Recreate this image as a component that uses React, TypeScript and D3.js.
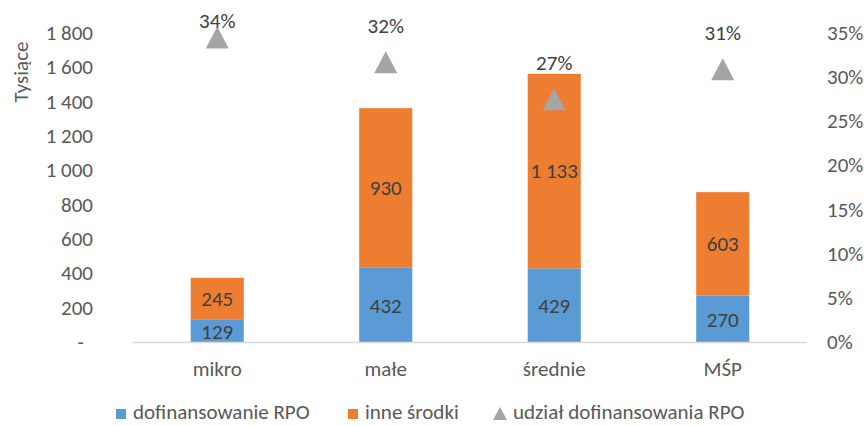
import React from "react";
import * as d3 from "d3";

const categories = ["mikro", "małe", "średnie", "MŚP"];
const rpoValues = [129, 432, 429, 270];
const otherValues = [245, 930, 1133, 603];
const shareValues = [0.345, 0.317, 0.275, 0.309];
const shareLabels = ["34%", "32%", "27%", "31%"];
const leftTicks = [0, 200, 400, 600, 800, 1000, 1200, 1400, 1600, 1800];
const rightTicks = [0, 0.05, 0.1, 0.15, 0.2, 0.25, 0.3, 0.35];
const legendLabels = ["dofinansowanie RPO", "inne środki", "udział dofinansowania RPO"];

const BLUE = "#5B9BD5";
const ORANGE = "#ED7D31";
const GRAY = "#A5A5A5";
const FONT = "Carlito, Lato, sans-serif";
const FS = 21;

function fmtThousands(v: number): string {
  if (v === 0) return "-";
  const s = String(v);
  return s.length > 3 ? s.slice(0, s.length - 3) + " " + s.slice(s.length - 3) : s;
}

function triPath(hw: number, hh: number): string {
  const p = d3.path();
  p.moveTo(0, -hh);
  p.lineTo(hw, hh);
  p.lineTo(-hw, hh);
  p.closePath();
  return p.toString();
}

export default function App() {
  const W = 867, H = 426;
  const x = d3.scaleBand<string>().domain(categories).range([133, 807]).paddingInner(0.685).paddingOuter(0.3425);
  const y = d3.scaleLinear().domain([0, 1800]).range([342, 33]);
  const y2 = d3.scaleLinear().domain([0, 0.35]).range([342, 33]);
  const bw = x.bandwidth();
  const tri = triPath(11.5, 11);
  const LY = 419;

  return (
    <svg width={W} height={H} style={{ position: "absolute", left: 0, top: 0, background: "#fff" }} fontFamily={FONT}>
      <text transform={`translate(21,72) rotate(-90)`} textAnchor="middle" dominantBaseline="central" fontSize={FS} fill="#595959">Tysiące</text>
      {leftTicks.map((t) => (
        <text key={t} x={t === 0 ? 84 : 93} y={y(t)} textAnchor="end" dominantBaseline="central" fontSize={FS} fill="#595959">{fmtThousands(t)}</text>
      ))}
      {rightTicks.map((t) => (
        <text key={t} x={827} y={y2(t)} textAnchor="start" dominantBaseline="central" fontSize={FS} fill="#595959">{d3.format(".0%")(t)}</text>
      ))}
      {categories.map((c, i) => {
        const x0 = x(c)!;
        const r = rpoValues[i], o = otherValues[i];
        return (
          <g key={c}>
            <rect x={x0} y={y(r)} width={bw} height={y(0) - y(r)} fill={BLUE} />
            <rect x={x0} y={y(r + o)} width={bw} height={y(r) - y(r + o)} fill={ORANGE} />
          </g>
        );
      })}
      <line x1={133} x2={807} y1={342.5} y2={342.5} stroke="#D9D9D9" strokeWidth={1.5} />
      {categories.map((c, i) => {
        const cx = x(c)! + bw / 2;
        const r = rpoValues[i], o = otherValues[i];
        return (
          <g key={c + "l"}>
            <text x={cx} y={(y(0) + y(r)) / 2 + 1} textAnchor="middle" dominantBaseline="central" fontSize={FS} fill="#404040">{fmtThousands(r)}</text>
            <text x={cx} y={(y(r) + y(r + o)) / 2} textAnchor="middle" dominantBaseline="central" fontSize={FS} fill="#404040">{fmtThousands(o)}</text>
            <text x={cx} y={369} textAnchor="middle" dominantBaseline="central" fontSize={FS} fill="#595959">{c}</text>
          </g>
        );
      })}
      {categories.map((c, i) => {
        const cx = x(c)! + bw / 2;
        const ty = y2(shareValues[i]);
        return (
          <g key={c + "t"}>
            <path d={tri} transform={`translate(${cx},${ty})`} fill={GRAY} />
            <text x={cx} y={Math.max(21, ty - 36)} textAnchor="middle" dominantBaseline="central" fontSize={FS} fill="#404040">{shareLabels[i]}</text>
          </g>
        );
      })}
      <g fontSize={FS} fill="#595959">
        <rect x={116} y={LY - 10} width={10} height={10} fill={BLUE} />
        <text x={133} y={LY}>{legendLabels[0]}</text>
        <rect x={348} y={LY - 10} width={10} height={10} fill={ORANGE} />
        <text x={365} y={LY}>{legendLabels[1]}</text>
        <path d={triPath(7, 6.5)} transform={`translate(500,${LY - 5.5})`} fill={GRAY} />
        <text x={513} y={LY}>{legendLabels[2]}</text>
      </g>
    </svg>
  );
}
